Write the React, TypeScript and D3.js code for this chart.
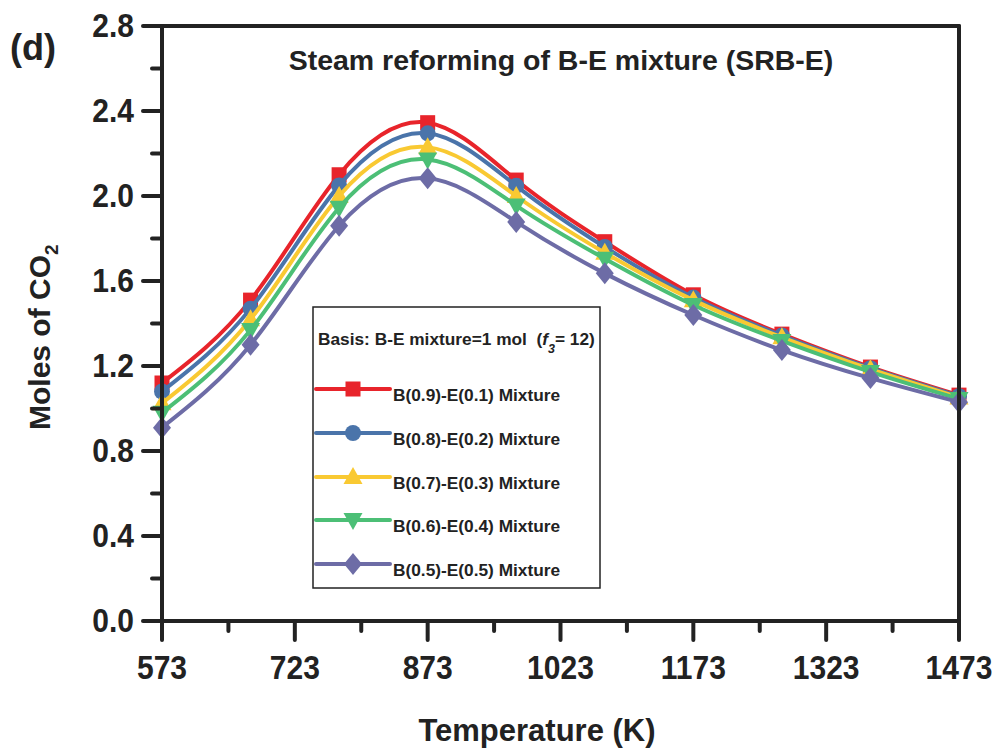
import React from "react";
import * as d3 from "d3";

const temps = [573, 673, 773, 873, 973, 1073, 1173, 1273, 1373, 1473];
const seriesB09 = [1.12, 1.51, 2.1, 2.345, 2.075, 1.785, 1.535, 1.35, 1.195, 1.063];
const seriesB08 = [1.08, 1.47, 2.05, 2.295, 2.048, 1.76, 1.522, 1.343, 1.19, 1.058];
const seriesB07 = [1.025, 1.42, 2.0, 2.23, 2.0, 1.733, 1.51, 1.335, 1.185, 1.052];
const seriesB06 = [0.98, 1.37, 1.945, 2.172, 1.955, 1.705, 1.487, 1.318, 1.172, 1.045];
const seriesB05 = [0.91, 1.3, 1.86, 2.083, 1.878, 1.636, 1.44, 1.275, 1.143, 1.03];
const seriesNames = [
  "B(0.9)-E(0.1) Mixture",
  "B(0.8)-E(0.2) Mixture",
  "B(0.7)-E(0.3) Mixture",
  "B(0.6)-E(0.4) Mixture",
  "B(0.5)-E(0.5) Mixture",
];
const xTicks = [573, 723, 873, 1023, 1173, 1323, 1473];
const xMinorTicks = [648, 798, 948, 1098, 1248, 1398];
const yTicks = [0, 0.4, 0.8, 1.2, 1.6, 2.0, 2.4, 2.8];
const yMinorTicks = [0.2, 0.6, 1.0, 1.4, 1.8, 2.2, 2.6];

const colors = ["#e8242b", "#4a74aa", "#f9c932", "#4cbf76", "#6d6ca6"];
const shapes = ["square", "circle", "triangle", "triangleDown", "diamond"];

const W = 1003;
const H = 751;
const x = d3.scaleLinear().domain([573, 1473]).range([162, 959]);
const y = d3.scaleLinear().domain([0, 2.8]).range([621, 26]);

function Marker({ shape, cx, cy, color }: { shape: string; cx: number; cy: number; color: string }) {
  if (shape === "square") return <rect x={cx - 7.5} y={cy - 7.5} width={15} height={15} fill={color} />;
  if (shape === "circle") return <circle cx={cx} cy={cy} r={8} fill={color} />;
  if (shape === "triangle")
    return <path d={`M${cx},${cy - 10}L${cx + 9.5},${cy + 7}L${cx - 9.5},${cy + 7}Z`} fill={color} />;
  if (shape === "triangleDown")
    return <path d={`M${cx},${cy + 10}L${cx + 9.5},${cy - 7}L${cx - 9.5},${cy - 7}Z`} fill={color} />;
  return <path d={`M${cx},${cy - 11}L${cx + 9},${cy}L${cx},${cy + 11}L${cx - 9},${cy}Z`} fill={color} />;
}

export default function App() {
  const all = [seriesB09, seriesB08, seriesB07, seriesB06, seriesB05];
  const line = d3
    .line<number>()
    .x((_, i) => x(temps[i]))
    .y((d) => y(d))
    .curve(d3.curveNatural);
  const font = "Liberation Sans, Arial, Helvetica, sans-serif";
  const axisColor = "#222";
  const legendRowsY = [389, 433, 477, 520, 564];
  return (
    <svg width={W} height={H} style={{ position: "absolute", left: 0, top: 0, background: "#fff" }} fontFamily={font}>
      <rect x={0} y={0} width={W} height={H} fill="#fff" />
      {/* series */}
      {all.map((s, k) => (
        <g key={k}>
          <path d={line(s) || ""} fill="none" stroke={colors[k]} strokeWidth={4} />
          {s.map((v, i) => (
            <Marker key={i} shape={shapes[k]} cx={x(temps[i])} cy={y(v)} color={colors[k]} />
          ))}
        </g>
      ))}
      {/* frame */}
      <g stroke={axisColor} strokeWidth={4} strokeLinecap="round" fill="none">
        <line x1={x(573)} x2={x(1473)} y1={y(2.8)} y2={y(2.8)} />
        <line x1={x(1473)} x2={x(1473)} y1={y(2.8)} y2={y(0)} />
        <line x1={x(573)} x2={x(1473)} y1={y(0)} y2={y(0)} />
        <line x1={x(573)} x2={x(573)} y1={y(2.8)} y2={y(0)} />
        {xTicks.map((t) => (
          <line key={"xt" + t} x1={x(t)} x2={x(t)} y1={y(0)} y2={y(0) + 19} />
        ))}
        {xMinorTicks.map((t) => (
          <line key={"xm" + t} x1={x(t)} x2={x(t)} y1={y(0)} y2={y(0) + 10} />
        ))}
        {yTicks.map((t) => (
          <line key={"yt" + t} x1={x(573) - 19} x2={x(573)} y1={y(t)} y2={y(t)} />
        ))}
        {yMinorTicks.map((t) => (
          <line key={"ym" + t} x1={x(573) - 10} x2={x(573)} y1={y(t)} y2={y(t)} />
        ))}
      </g>
      {/* tick labels */}
      <g fontWeight="bold" fontSize={30} fill={axisColor}>
        {xTicks.map((t) => (
          <text key={"xl" + t} x={x(t)} y={679} textAnchor="middle" transform={`translate(0,${679 * -0.08}) scale(1,1.08)`}>
            {t}
          </text>
        ))}
        {yTicks.map((t) => (
          <text
            key={"yl" + t}
            x={134}
            y={y(t) + 11}
            textAnchor="end"
            transform={`translate(0,${(y(t) + 11) * -0.08}) scale(1,1.08)`}
          >
            {d3.format(".1f")(t)}
          </text>
        ))}
      </g>
      {/* axis titles */}
      <text x={537} y={741} textAnchor="middle" fontWeight="bold" fontSize={31} fill={axisColor}>
        Temperature (K)
      </text>
      <text transform="translate(50,430) rotate(-90)" fontWeight="bold" fontSize={30} fill={axisColor}>
        Moles of CO
        <tspan fontSize={19} dy={8}>2</tspan>
      </text>
      <text x={10} y={60} fontWeight="bold" fontSize={36} fill={axisColor}>
        (d)
      </text>
      <text x={561} y={70} textAnchor="middle" fontWeight="bold" fontSize={28.5} fill={axisColor}>
        Steam reforming of B-E mixture (SRB-E)
      </text>
      {/* legend */}
      <rect x={313} y={307} width={287} height={281} fill="none" stroke="#222" strokeWidth={1.5} />
      <text x={318} y={345} fontWeight="bold" fontSize={17.3} fill={axisColor} style={{ whiteSpace: "pre" }}>
        {"Basis: B-E mixture=1 mol  ("}
        <tspan fontStyle="italic">f</tspan>
        <tspan fontStyle="italic" fontSize={12.5} dy={8}>3</tspan>
        <tspan dy={-8}>= 12)</tspan>
      </text>
      {seriesNames.map((name, k) => (
        <g key={name}>
          <line x1={316} x2={390} y1={legendRowsY[k]} y2={legendRowsY[k]} stroke={colors[k]} strokeWidth={4} strokeLinecap="round" />
          <Marker shape={shapes[k]} cx={353} cy={legendRowsY[k]} color={colors[k]} />
          <text x={393} y={legendRowsY[k] + 12} fontWeight="bold" fontSize={17.3} fill={axisColor}>
            {name}
          </text>
        </g>
      ))}
    </svg>
  );
}
